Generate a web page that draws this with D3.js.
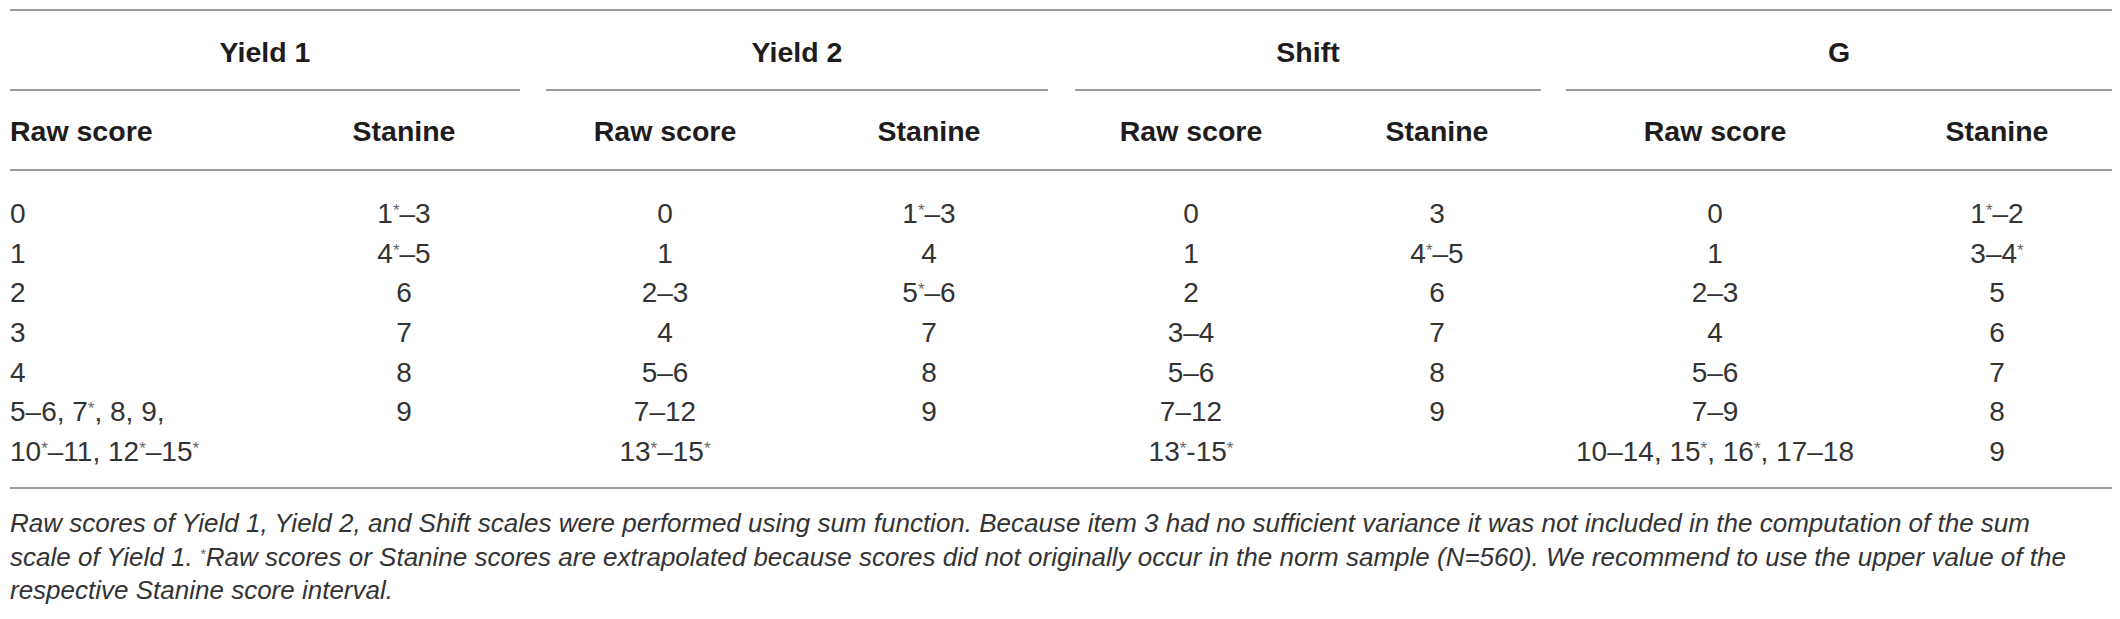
<!DOCTYPE html>
<html>
<head>
<meta charset="utf-8">
<script src="https://cdn.jsdelivr.net/npm/d3@7"></script>
<style>
  html, body { margin: 0; padding: 0; background: #fff; }
  svg { display: block; }
</style>
</head>
<body>
<svg id="chart" width="2120" height="619"></svg>
<script>
// ---------- data ----------
const groups = ["Yield 1", "Yield 2", "Shift", "G"];
const subHeaders = ["Raw score", "Stanine"];
const yield1Raw     = ["0", "1", "2", "3", "4", "5–6, 7*, 8, 9,", "10*–11, 12*–15*"];
const yield1Stanine = ["1*–3", "4*–5", "6", "7", "8", "9", ""];
const yield2Raw     = ["0", "1", "2–3", "4", "5–6", "7–12", "13*–15*"];
const yield2Stanine = ["1*–3", "4", "5*–6", "7", "8", "9", ""];
const shiftRaw      = ["0", "1", "2", "3–4", "5–6", "7–12", "13*-15*"];
const shiftStanine  = ["3", "4*–5", "6", "7", "8", "9", ""];
const gRaw          = ["0", "1", "2–3", "4", "5–6", "7–9", "10–14, 15*, 16*, 17–18"];
const gStanine      = ["1*–2", "3–4*", "5", "6", "7", "8", "9"];
const footnoteLines = [
  "Raw scores of Yield 1, Yield 2, and Shift scales were performed using sum function. Because item 3 had no sufficient variance it was not included in the computation of the sum",
  "scale of Yield 1. *Raw scores or Stanine scores are extrapolated because scores did not originally occur in the norm sample (N=560). We recommend to use the upper value of the",
  "respective Stanine score interval."
];

const columns = [yield1Raw, yield1Stanine, yield2Raw, yield2Stanine, shiftRaw, shiftStanine, gRaw, gStanine];

// ---------- layout ----------
const svg = d3.select("#chart");
const FONT = "'Liberation Sans', Arial, Helvetica, sans-serif";
const lineColor = "#9a9a9a";
const headColor = "#1f1c1d";
const textColor = "#333333";

const colIdx = d3.range(columns.length);
const xCol = d3.scaleOrdinal().domain(colIdx).range([10, 404, 665, 929, 1191, 1437, 1715, 1997]);
const anchorOf = i => (i === 0 ? "start" : "middle");

const groupSpan = d3.scaleOrdinal().domain(d3.range(groups.length))
  .range([[10, 520], [546, 1048], [1075, 1541], [1566, 2112]]);

const nRows = yield1Raw.length;
const yRow = d3.scaleLinear().domain([0, nRows - 1]).range([213, 451]);
const yFoot = d3.scaleLinear().domain([0, 2]).range([523, 590]);

const tableLeft = 10, tableRight = 2112;
const yTop = 10, yGroupText = 52, yGroupLine = 90, yHeadText = 131, yHeadLine = 170, yBottom = 488;

// helper: write text with superscript asterisks
function richText(sel, str, supSize, rise) {
  const parts = str.split(/(\*)/).filter(p => p !== "");
  let raised = false;
  parts.forEach(p => {
    if (p === "*") {
      sel.append("tspan").attr("font-size", supSize).attr("fill", "#666").attr("dy", -rise).text("*");
      raised = true;
    } else {
      const t = sel.append("tspan").text(p);
      if (raised) { t.attr("dy", rise); raised = false; }
    }
  });
}

// ---------- rules ----------
const hRules = [
  { y: yTop, x1: tableLeft, x2: tableRight },
  { y: yHeadLine, x1: tableLeft, x2: tableRight },
  { y: yBottom, x1: tableLeft, x2: tableRight }
].concat(groups.map((g, i) => ({ y: yGroupLine, x1: groupSpan(i)[0], x2: groupSpan(i)[1] })));

svg.append("g").selectAll("line").data(hRules).join("line")
  .attr("x1", d => d.x1).attr("x2", d => d.x2)
  .attr("y1", d => d.y).attr("y2", d => d.y)
  .attr("stroke", lineColor).attr("stroke-width", 2);

// ---------- group headers ----------
svg.append("g").selectAll("text").data(groups).join("text")
  .attr("x", (d, i) => (groupSpan(i)[0] + groupSpan(i)[1]) / 2)
  .attr("y", yGroupText).attr("dy", "0.36em")
  .attr("text-anchor", "middle")
  .attr("font-family", FONT).attr("font-weight", "bold").attr("font-size", 28.5)
  .attr("fill", headColor)
  .text(d => d);

// ---------- column headers ----------
svg.append("g").selectAll("text").data(colIdx).join("text")
  .attr("x", i => xCol(i))
  .attr("y", yHeadText).attr("dy", "0.36em")
  .attr("text-anchor", anchorOf)
  .attr("font-family", FONT).attr("font-weight", "bold").attr("font-size", 28.5)
  .attr("fill", headColor)
  .text(i => subHeaders[i % 2]);

// ---------- body cells ----------
const cells = [];
columns.forEach((col, ci) => col.forEach((v, ri) => { if (v !== "") cells.push({ ci, ri, v }); }));

svg.append("g").selectAll("text").data(cells).join("text")
  .attr("x", d => xCol(d.ci))
  .attr("y", d => yRow(d.ri)).attr("dy", "0.36em")
  .attr("text-anchor", d => anchorOf(d.ci))
  .attr("font-family", FONT).attr("font-size", 28)
  .attr("fill", textColor)
  .each(function (d) { richText(d3.select(this), d.v, 17, 7); });

// ---------- footnote ----------
svg.append("g").selectAll("text").data(footnoteLines).join("text")
  .attr("x", tableLeft)
  .attr("y", (d, i) => yFoot(i)).attr("dy", "0.36em")
  .attr("font-family", FONT).attr("font-style", "italic").attr("font-size", 26)
  .attr("fill", textColor)
  .each(function (d) { richText(d3.select(this), d, 15, 7); });
</script>
</body>
</html>
